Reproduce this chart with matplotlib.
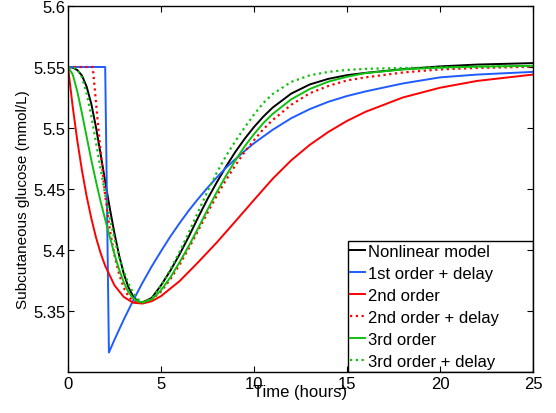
import matplotlib
matplotlib.use('Agg')
import matplotlib.pyplot as plt
from matplotlib.patches import Rectangle

plt.rcParams['font.family'] = ['Liberation Sans', 'DejaVu Sans']

# values (time in hours, glucose in mmol/L)
t_nonlin = [0, 0.25, 0.5, 0.75, 1, 1.25, 1.5, 1.75, 2, 2.25, 2.5, 2.75, 3, 3.25, 3.5, 3.75, 4,
            4.5, 5, 5.5, 6, 6.5, 7, 7.5, 8, 8.5, 9, 9.5, 10, 10.5, 11, 12, 13, 14, 15, 16, 18, 20, 22, 25]
g_nonlin = [5.5500, 5.5495, 5.5475, 5.5430, 5.5340, 5.5200, 5.5010, 5.4790, 5.4560, 5.4340, 5.4135,
            5.3955, 5.3805, 5.3695, 5.3620, 5.3580, 5.3570, 5.3607, 5.3710, 5.3830, 5.3965, 5.4112,
            5.4268, 5.4418, 5.4555, 5.4685, 5.4805, 5.4912, 5.5008, 5.5093, 5.5167, 5.5282, 5.5357,
            5.5403, 5.5433, 5.5452, 5.5482, 5.5505, 5.5520, 5.5532]

t_first = [0, 2.0, 2.2, 2.5, 3, 3.5, 4, 4.5, 5, 5.5, 6, 6.5, 7, 7.5, 8, 8.5, 9, 9.5, 10, 11, 12,
           13, 14, 15, 16, 18, 20, 22, 25]
g_first = [5.5500, 5.5500, 5.3160, 5.3265, 5.3430, 5.3585, 5.3730, 5.3865, 5.3990, 5.4110, 5.4220,
           5.4325, 5.4420, 5.4510, 5.4595, 5.4675, 5.4745, 5.4812, 5.4875, 5.4985, 5.5080, 5.5155,
           5.5215, 5.5262, 5.5300, 5.5365, 5.5415, 5.5438, 5.5460]

t_second = [0, 0.25, 0.5, 0.75, 1, 1.25, 1.5, 1.75, 2, 2.5, 3, 3.5, 4, 4.5, 5, 6, 7, 8, 9, 10,
            11, 12, 13, 14, 15, 16, 18, 20, 22, 25]
g_second = [5.5500, 5.5178, 5.4896, 5.4653, 5.4442, 5.4262, 5.4106, 5.3976, 5.3870, 5.3710, 5.3615,
            5.3568, 5.3561, 5.3580, 5.3622, 5.3745, 5.3900, 5.4062, 5.4235, 5.4410, 5.4583, 5.4735,
            5.4862, 5.4968, 5.5058, 5.5133, 5.5250, 5.5330, 5.5386, 5.5438]

t_second_d = [0, 1.33, 1.5, 1.63, 1.75, 2, 2.25, 2.5, 2.75, 3, 3.25, 3.5, 3.75, 4, 4.5, 5, 5.5, 6,
              6.5, 7, 7.5, 8, 8.5, 9, 9.5, 10, 10.5, 11, 12, 13, 14, 15, 16, 18, 20, 22, 25]
g_second_d = [5.5500, 5.5500, 5.5220, 5.5000, 5.4810, 5.4445, 5.4165, 5.3955, 5.3800, 5.3690, 5.3620,
              5.3580, 5.3565, 5.3570, 5.3595, 5.3660, 5.3760, 5.3880, 5.4015, 5.4160, 5.4305, 5.4445,
              5.4575, 5.4695, 5.4805, 5.4900, 5.4990, 5.5065, 5.5190, 5.5285, 5.5345, 5.5390, 5.5415,
              5.5455, 5.5480, 5.5492, 5.5502]

t_third = [0, 0.25, 0.5, 0.75, 1, 1.25, 1.5, 1.75, 2, 2.25, 2.5, 2.75, 3, 3.25, 3.5, 3.75, 4,
           4.5, 5, 5.5, 6, 6.5, 7, 7.5, 8, 8.5, 9, 9.5, 10, 10.5, 11, 12, 13, 14, 15, 16, 18, 20, 22, 25]
g_third = [5.5500, 5.5440, 5.5300, 5.5120, 5.4930, 5.4740, 5.4565, 5.4400, 5.4250, 5.4105, 5.3965,
           5.3840, 5.3735, 5.3655, 5.3605, 5.3578, 5.3570, 5.3595, 5.3670, 5.3775, 5.3900, 5.4035,
           5.4180, 5.4330, 5.4475, 5.4610, 5.4735, 5.4850, 5.4950, 5.5040, 5.5115, 5.5235, 5.5320,
           5.5380, 5.5420, 5.5450, 5.5480, 5.5495, 5.5503, 5.5510]

t_third_d = [0, 0.25, 0.5, 0.75, 1, 1.25, 1.5, 1.75, 2, 2.25, 2.5, 2.75, 3, 3.25, 3.5, 3.75, 4,
             4.5, 5, 5.5, 6, 6.5, 7, 7.5, 8, 8.5, 9, 9.5, 10, 10.5, 11, 12, 13, 14, 15, 16, 18, 20, 22, 25]
g_third_d = [5.5500, 5.5498, 5.5480, 5.5415, 5.5285, 5.5100, 5.4885, 5.4665, 5.4455, 5.4260, 5.4090,
             5.3945, 5.3825, 5.3725, 5.3650, 5.3598, 5.3572, 5.3600, 5.3705, 5.3840, 5.3985, 5.4145,
             5.4315, 5.4480, 5.4635, 5.4772, 5.4893, 5.5005, 5.5110, 5.5205, 5.5278, 5.5378, 5.5432,
             5.5460, 5.5476, 5.5485, 5.5492, 5.5497, 5.5502, 5.5508]

labels = ['Nonlinear model', '1st order + delay', '2nd order', '2nd order + delay',
          '3rd order', '3rd order + delay']
xticks = [0, 5, 10, 15, 20, 25]
yticks = [5.35, 5.4, 5.45, 5.5, 5.55, 5.6]
ytick_labels = ['5.35', '5.4', '5.45', '5.5', '5.55', '5.6']

blue = '#1f5cff'
red = '#ff0000'
green = '#10c010'
dot = (0, (1, 1.6))

fig = plt.figure(figsize=(5.56, 4.14), dpi=100)
ax = fig.add_axes([68 / 556, 41 / 414, 465 / 556, 366 / 414])

ax.plot(t_nonlin, g_nonlin, color='black', lw=1.4, label=labels[0])
ax.plot(t_first, g_first, color=blue, lw=1.4, label=labels[1])
ax.plot(t_second, g_second, color=red, lw=1.4, label=labels[2])
ax.plot(t_second_d, g_second_d, color=red, lw=1.6, ls=dot, label=labels[3])
ax.plot(t_third, g_third, color=green, lw=1.4, label=labels[4])
ax.plot(t_third_d, g_third_d, color=green, lw=1.6, ls=dot, label=labels[5])

ax.set_xlim(0, 25)
ax.set_ylim(5.3, 5.6)
ax.set_xticks(xticks)
ax.set_xticklabels([str(x) for x in xticks])
ax.set_yticks(yticks)
ax.set_yticklabels(ytick_labels)
ax.tick_params(direction='in', length=4, width=0.8, top=True, right=True, labelsize=12)
ax.tick_params(axis='x', pad=3)
ax.tick_params(axis='y', pad=2)
for s in ax.spines.values():
    s.set_linewidth(1.0)

ax.set_xlabel('Time (hours)', fontsize=12)
ax.xaxis.set_label_coords(0.5, -0.032)
ax.set_ylabel('Subcutaneous glucose (mmol/L)', fontsize=11)
ax.yaxis.set_label_coords(-0.082, 0.473)

leg = ax.legend(loc='upper left', bbox_to_anchor=(0.607, 0.349), frameon=False, fontsize=12,
                borderpad=0, borderaxespad=0, handlelength=0.9, handletextpad=0.15,
                labelspacing=0.42)
ax.add_patch(Rectangle((0.602, 0.0), 0.398, 0.358, transform=ax.transAxes, fill=False,
                       edgecolor='black', lw=1.0, zorder=5))

fig.savefig('out.png', dpi=100)
